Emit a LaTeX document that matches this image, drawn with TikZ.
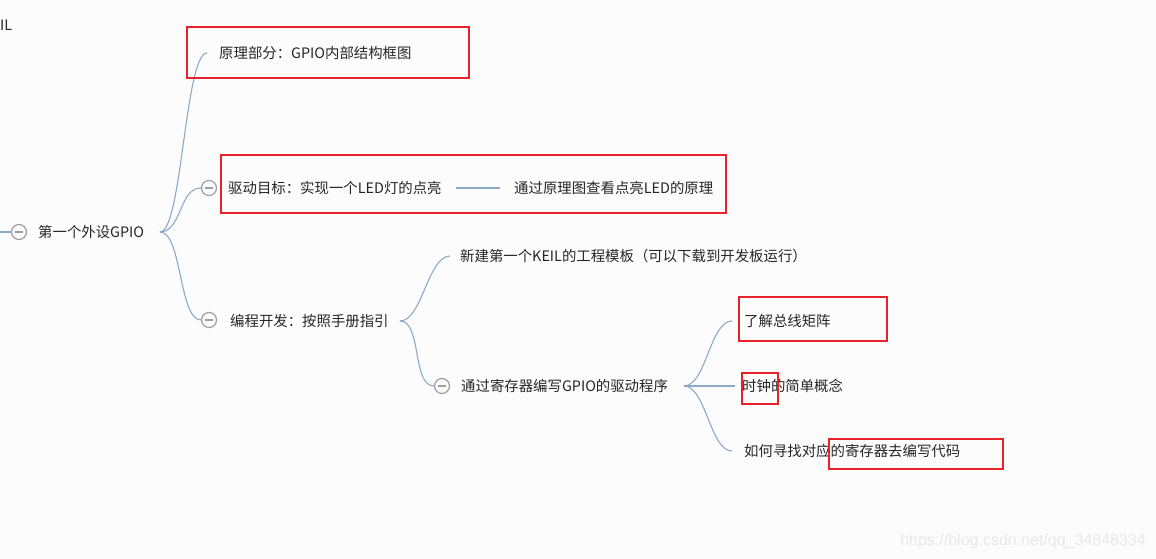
\documentclass[tikz,border=0pt]{standalone}
\usepackage{fontspec}
\setmainfont{Noto Sans CJK SC}
\newfontfamily\wmfont{Liberation Sans}
\usetikzlibrary{calc}
\definecolor{branch}{HTML}{8DAAC6}
\definecolor{redbox}{HTML}{E8222B}
\definecolor{bgc}{HTML}{FCFCFD}
\tikzset{txt/.style={anchor=west,inner sep=0pt,text=black!85,font=\fontsize{14.4}{16}\selectfont}}
\tikzset{fold/.style={draw=gray!75,circle,minimum size=15pt,inner sep=0pt,line width=1.2pt,path picture={\draw[gray!75,line width=1.2pt]($(path picture bounding box.west)+(3.5pt,0)$)--($(path picture bounding box.east)-(3.5pt,0)$);}}}
\tikzset{br/.style={draw=branch,line width=1.1pt}}
\tikzset{hl/.style={draw=redbox,line width=2pt}}
\newcommand{\Branch}[2]{\draw[br](#1)..controls($(#1)+(22,0)$)and($(#2)-(22,0)$)..(#2);}
\begin{document}
\begin{tikzpicture}[x=1pt,y=-1pt]
\fill[bgc](0,0)rectangle(1156,559);
\useasboundingbox(0,0)rectangle(1156,559);
\node(til)[txt]at(0,25){IL};
% root
\node(root)[fold]at(19,232){};\node(tgpio)[txt]at(38,232){第一个外设GPIO};
\coordinate(rs)at(160,232);
\draw[br](0,232)--(root.west);
% first level
\node(tyl)[txt]at(219,53){原理部分：GPIO内部结构框图};
\node(c2)[fold]at(209,188){};\node(tqd)[txt]at(228,188){驱动目标：实现一个LED灯的点亮};
\node(tyy)[txt]at(514,188){通过原理图查看点亮LED的原理};
\node(c3)[fold]at(209,320){};\node(tbc)[txt]at(230,321){编程开发：按照手册指引};
\coordinate(bs)at(400,321);
% second level
\node(tkeil)[txt]at(460,256){新建第一个KEIL的工程模板（可以下载到开发板运行）};
\node(c4)[fold]at(442,386){};\node(tjcq)[txt]at(461,386){通过寄存器编写GPIO的驱动程序};
\coordinate(js)at(684,386);
\node(tzx)[txt]at(744,321){了解总线矩阵};
\node(tsz)[txt]at(742,386){时钟的简单概念};
\node(tzd)[txt]at(744,451){如何寻找对应的寄存器去编写代码};
% branches
\coordinate(e1)at($(tyl.west)-(12,0)$);\Branch{rs}{e1}
\Branch{rs}{c2.west}\Branch{rs}{c3.west}
\draw[br]($(tqd.east)+(14,0)$)--($(tyy.west)-(14,0)$);
\coordinate(e2)at($(tkeil.west)-(10,0)$);\Branch{bs}{e2}
\Branch{bs}{c4.west}
\coordinate(e3)at($(tzx.west)-(12,0)$);\Branch{js}{e3}
\coordinate(e4)at($(tsz.west)-(7,0)$);\draw[br](js)--(e4);
\coordinate(e5)at($(tzd.west)-(12,0)$);\Branch{js}{e5}
% red marks
\draw[hl](187,27)rectangle(469,78);
\draw[hl](221,155)rectangle(726,213);
\draw[hl](739,297)rectangle(887,341);
\draw[hl](742,373)rectangle(778,404);
\draw[hl](829,439)rectangle(1003,469);
\node(wm)[anchor=east,inner sep=0pt,text=black!9,font=\wmfont\fontsize{16}{18}\selectfont]at(1146,541){https://blog.csdn.net/qq\_34848334};
\end{tikzpicture}
\end{document}
